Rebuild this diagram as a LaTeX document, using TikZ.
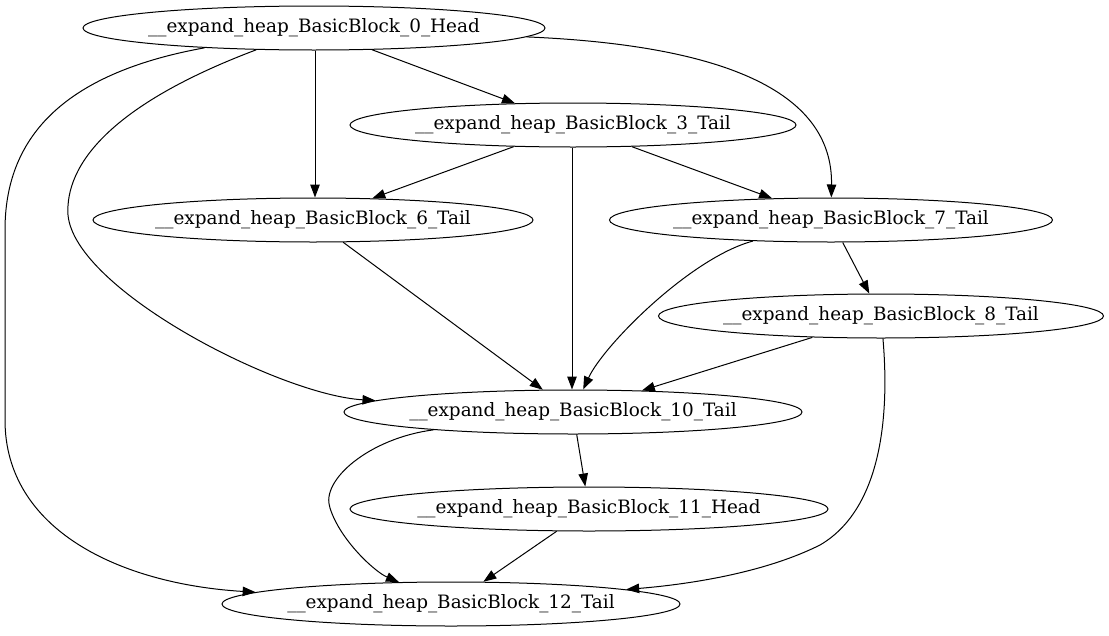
\documentclass[tikz,border=0pt]{standalone}
\usepackage{fontspec}
\setmainfont{DejaVu Serif}
\usetikzlibrary{shapes.geometric,arrows.meta}

\begin{document}
\begin{tikzpicture}[x=1pt,y=-1pt,line width=1pt,
    bb/.style={draw,ellipse,inner ysep=0pt,inner xsep=-10pt,minimum height=44pt,font=\fontsize{18.4}{21}\selectfont},
    edge/.style={-{Triangle[length=13pt,width=9.5pt]}}]
%  \draw[style=help lines] (0,0) grid (1109,635);
  \useasboundingbox (0,0) rectangle (1109,635);

  \node[bb,minimum width=462pt] (h0)  at (314,28)  {\_\_expand\_heap\_BasicBlock\_0\_Head};
  \node[bb,minimum width=446pt] (t3)  at (573,125) {\_\_expand\_heap\_BasicBlock\_3\_Tail};
  \node[bb,minimum width=440pt] (t6)  at (313,220) {\_\_expand\_heap\_BasicBlock\_6\_Tail};
  \node[bb,minimum width=443pt] (t7)  at (831,220) {\_\_expand\_heap\_BasicBlock\_7\_Tail};
  \node[bb,minimum width=445pt] (t8)  at (881,316) {\_\_expand\_heap\_BasicBlock\_8\_Tail};
  \node[bb,minimum width=458pt] (t10) at (573,412) {\_\_expand\_heap\_BasicBlock\_10\_Tail};
  \node[bb,minimum width=478pt] (h11) at (589,509) {\_\_expand\_heap\_BasicBlock\_11\_Head};
  \node[bb,minimum width=458pt] (t12) at (451,604) {\_\_expand\_heap\_BasicBlock\_12\_Tail};

  % straight edges
  \foreach \a/\b in {h0/t3, t3/t6, t3/t7, t6/t10, t7/t8, t8/t10, t10/h11, h11/t12}
    \draw[edge] (\a) -- (\b);
  \draw[edge] (h0.south -| 315,0) -- (t6.north -| 315,0);
  \draw[edge] (t3.south -| 572,0) -- (t10.north -| 572,0);

  % curved edges
  \draw[edge] (h0) .. controls (720,45) and (833,90) .. (t7);
  \draw[edge] (h0) .. controls (110,105) and (65,165) .. (68,215)
    .. controls (75,290) and (280,395) .. (t10);
  \draw[edge] (h0) .. controls (60,74) and (5,140) .. (5,230) -- (5,420)
    .. controls (5,530) and (120,584) .. (t12);
  \draw[edge] (t7) .. controls (690,258) and (603,346) .. (t10);
  \draw[edge] (t8) .. controls (890,420) and (880,510) .. (820,545)
    .. controls (760,575) and (680,585) .. (t12);
  \draw[edge] (t10) .. controls (370,438) and (320,480) .. (330,508)
    .. controls (340,540) and (375,572) .. (t12);
\end{tikzpicture}
\end{document}
